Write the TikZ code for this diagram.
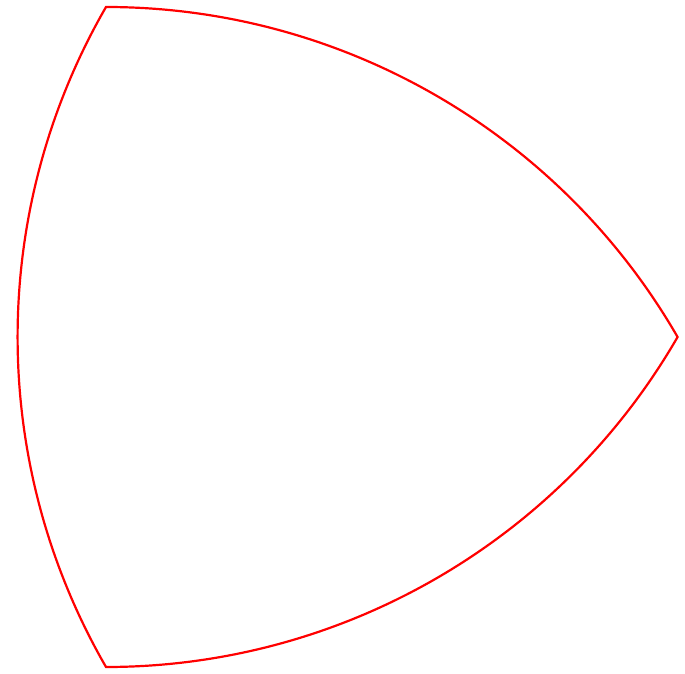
\documentclass[tikz,border=0pt]{standalone}
\begin{document}
\begin{tikzpicture}[x=1pt,y=1pt,reuleaux/.style={draw=red,line width=2.2pt,line join=miter}]
\useasboundingbox (0,0) rectangle (685,673);
\coordinate (B) at (106,666);
\coordinate (C) at (106,6);
\coordinate (A) at (677.6,336);
\draw[reuleaux] (B) arc[start angle=90,end angle=30,radius=660]
  arc[start angle=-30,end angle=-90,radius=660]
  arc[start angle=210,end angle=150,radius=660] -- cycle;
\end{tikzpicture}
\end{document}
